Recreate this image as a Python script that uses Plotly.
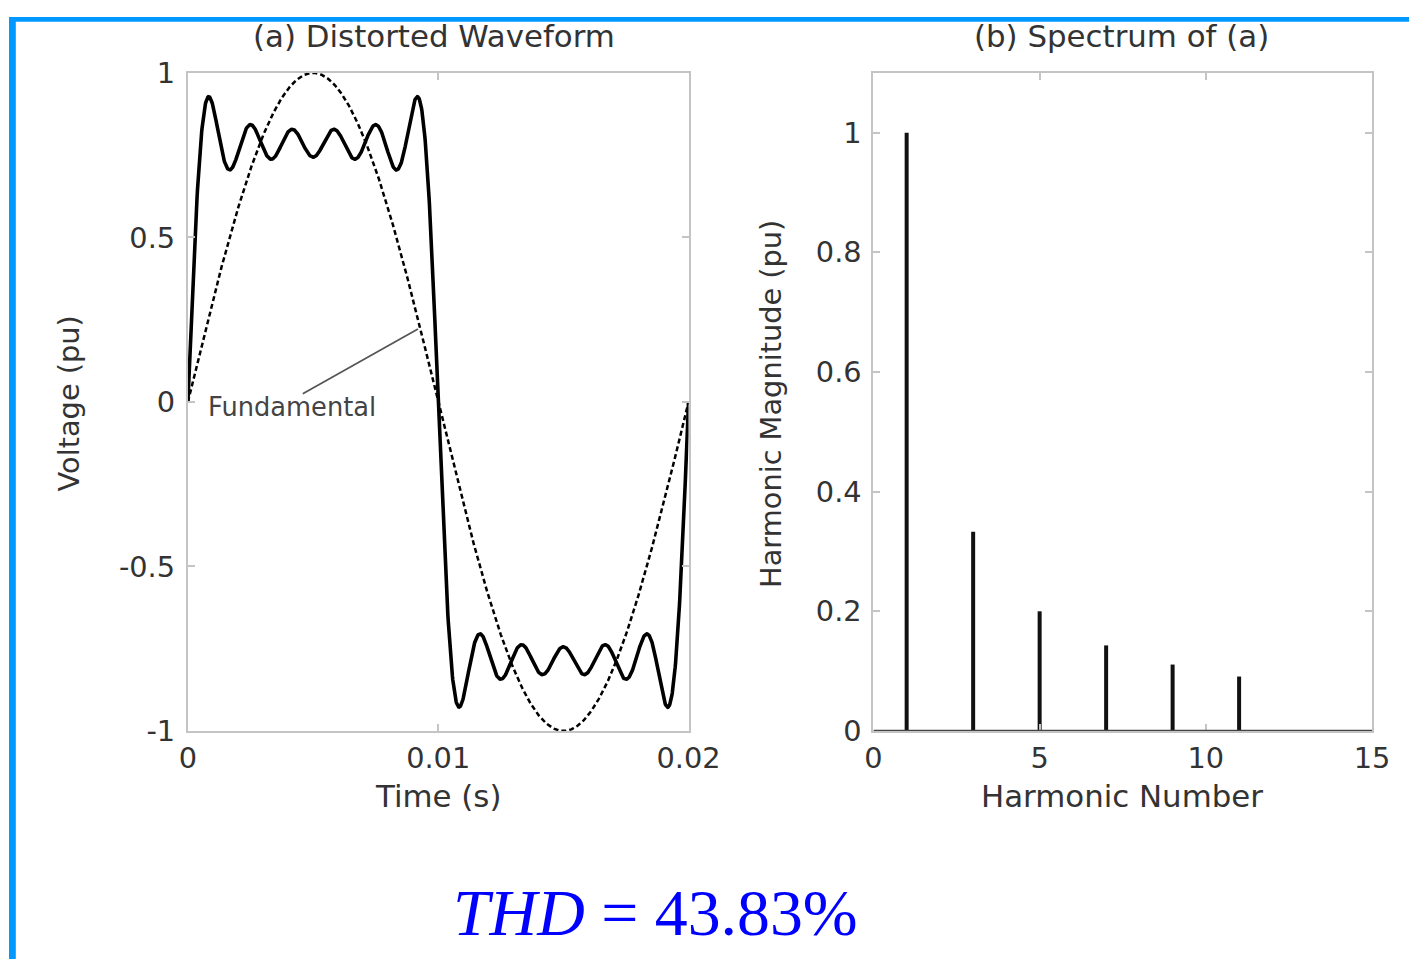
import numpy as np
import plotly.graph_objects as go

# ---- data ----
harmonic_numbers = [1, 3, 5, 7, 9, 11]
harmonic_magnitudes = [1.0, 0.333, 0.2, 0.143, 0.111, 0.091]   # pu, from panel (b)
fundamental_freq = 50.0                                         # Hz (period 0.02 s)
time_ticks = [0, 0.01, 0.02]
time_tick_labels = ["0", "0.01", "0.02"]
volt_ticks = [-1, -0.5, 0, 0.5, 1]
volt_tick_labels = ["-1", "-0.5", "0", "0.5", "1"]
harm_ticks = [0, 5, 10, 15]
harm_tick_labels = ["0", "5", "10", "15"]
mag_ticks = [0, 0.2, 0.4, 0.6, 0.8, 1]
mag_tick_labels = ["0", "0.2", "0.4", "0.6", "0.8", "1"]
thd_text = "<i>THD</i> = 43.83%"

# waveform (a) is the synthesis of the harmonics shown in (b)
t = np.linspace(0, 0.02, 1201)
distorted = np.zeros_like(t)
for n, a in zip(harmonic_numbers, harmonic_magnitudes):
    distorted += a * np.sin(2 * np.pi * n * fundamental_freq * t)
fundamental = harmonic_magnitudes[0] * np.sin(2 * np.pi * fundamental_freq * t)

# page placement of the figure observed in the rendering (offset and scale)
SX, SY, OX, OY = 0.9722, 0.9666, 8.0, 15.0
W = int(round((1409 - OX) / SX))
H = int(round((959 - OY) / SY))
def px(x):
    return ((x - OX) / SX) / W
def py(y):
    return 1 - ((y - OY) / SY) / H
def fs(size):
    return size / SX

FONT = "DejaVu Sans"
TXT = "#333333"
FRAME = "#c4c4c4"

fig = go.Figure()
fig.add_trace(go.Scatter(x=t, y=fundamental, mode="lines",
                         line=dict(color="black", width=2.5, dash="5px,3px"),
                         xaxis="x", yaxis="y", showlegend=False))
fig.add_trace(go.Scatter(x=t, y=distorted, mode="lines",
                         line=dict(color="black", width=3.6),
                         xaxis="x", yaxis="y", showlegend=False))
sx, sy = [], []
for n, a in zip(harmonic_numbers, harmonic_magnitudes):
    sx += [n, n, None]
    sy += [0, a, None]
fig.add_trace(go.Scatter(x=sx, y=sy, mode="lines",
                         line=dict(color="#111111", width=4),
                         xaxis="x2", yaxis="y2", showlegend=False))

axis_common = dict(showline=True, linecolor=FRAME, linewidth=2, mirror="ticks",
                   ticks="inside", ticklen=7, tickcolor=FRAME, tickwidth=2,
                   showgrid=False, zeroline=False,
                   tickfont=dict(family=FONT, size=fs(28), color=TXT))

fig.update_layout(
    width=W, height=H,
    margin=dict(l=0, r=0, t=0, b=0),
    paper_bgcolor="white", plot_bgcolor="white",
    font=dict(family=FONT, color=TXT),
    xaxis=dict(domain=[px(187), px(688)], range=[0, 0.02], tickvals=time_ticks,
               ticktext=time_tick_labels, anchor="y", ticklabelstandoff=0, **axis_common),
    yaxis=dict(domain=[py(730), py(71)], range=[-1, 1], tickvals=volt_ticks,
               ticktext=volt_tick_labels, anchor="x", ticklabelstandoff=5, **axis_common),
    xaxis2=dict(domain=[px(873), px(1372)], range=[0, 15], tickvals=harm_ticks,
                ticktext=harm_tick_labels, anchor="y2", ticklabelstandoff=0, **axis_common),
    yaxis2=dict(domain=[py(730), py(71)], range=[0, 1.1], tickvals=mag_ticks,
                ticktext=mag_tick_labels, anchor="x2", ticklabelstandoff=4, **axis_common),
)

def lab(text, x, y, size=30, angle=0):
    return dict(text=text, x=px(x), y=py(y), xref="paper", yref="paper",
                xanchor="center", yanchor="middle", showarrow=False, textangle=angle,
                font=dict(family=FONT, size=fs(size), color=TXT))

annotations = [
    lab("(a) Distorted Waveform", 433, 34),
    lab("(b) Spectrum of (a)", 1121, 34),
    lab("Time (s)", 437, 795),
    lab("Harmonic Number", 1122, 795),
    lab("Voltage (pu)", 68, 402, size=28, angle=-90),
    lab("Harmonic Magnitude (pu)", 771, 402, size=28, angle=-90),
    dict(text="Fundamental", x=0.00072, y=-0.015, xref="x", yref="y",
         xanchor="left", yanchor="middle",
         showarrow=False, font=dict(family=FONT, size=fs(25), color="#444444")),
    dict(text=thd_text, x=px(655), y=py(912), xref="paper", yref="paper",
         xanchor="center", yanchor="middle",
         showarrow=False, font=dict(family="Liberation Serif", size=fs(64), color="#0000ff")),
]
fig.update_layout(annotations=annotations)

shapes = [
    # pointer from the label to the fundamental curve
    dict(type="line", xref="x", yref="y", x0=0.00459, y0=0.025, x1=0.00919, y1=0.222,
         line=dict(color="#555555", width=1.7)),
    # stem baseline
    dict(type="line", xref="x2", yref="y2", x0=0, y0=0, x1=15, y1=0,
         line=dict(color="#444444", width=2.5)),
    # blue slide frame (left and top edges)
    dict(type="rect", xref="paper", yref="paper", x0=0, x1=7.0 / W, y0=0, y1=1,
         line=dict(width=0), fillcolor="#0099ff", layer="above"),
    dict(type="rect", xref="paper", yref="paper", x0=0, x1=1, y0=1 - 5.0 / H, y1=1,
         line=dict(width=0), fillcolor="#0099ff", layer="above"),
]
fig.update_layout(shapes=shapes)

fig.write_html("out.html")
